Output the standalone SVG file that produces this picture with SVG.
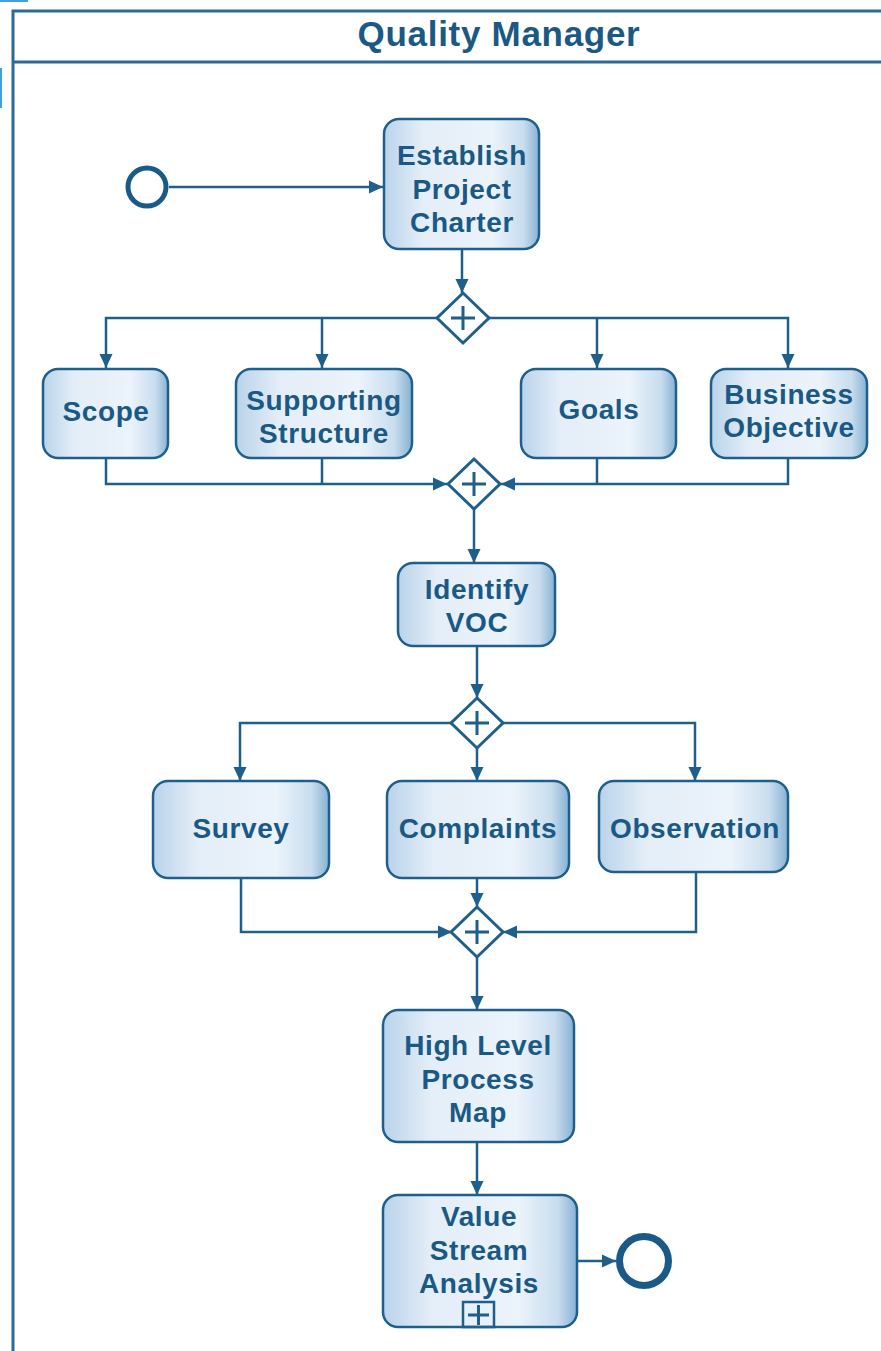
<svg xmlns="http://www.w3.org/2000/svg" width="881" height="1351" viewBox="0 0 881 1351">
  <style>
    .lane { fill: #ffffff; stroke: #2d6b97; stroke-width: 3; }
    .task { fill: url(#taskFill); stroke: #1f5f8b; stroke-width: 2.5; }
    .label { font-family: "Liberation Sans", Arial, sans-serif; font-weight: bold; font-size: 28px; letter-spacing: 0.6px; fill: #1a5984; text-anchor: middle; }
    .title { font-size: 35px; letter-spacing: 0.7px; }
    .flow { fill: none; stroke: #1f5f8b; stroke-width: 2.5; marker-end: url(#arrow); }
    .gateway { fill: #ffffff; stroke: #1f5f8b; stroke-width: 3; }
    .plus { fill: none; stroke: #1f5f8b; stroke-width: 3; }
    .event { fill: #ffffff; stroke: #1a5a87; }
    .handle { stroke: #3ea0e0; stroke-width: 2; }
  </style>
  <defs>
    <linearGradient id="taskFill" x1="0" y1="0" x2="1" y2="0">
      <stop offset="0" stop-color="#b9d3ea"/>
      <stop offset="0.25" stop-color="#e4eef8"/>
      <stop offset="0.7" stop-color="#ebf3fb"/>
      <stop offset="0.9" stop-color="#c9ddee"/>
      <stop offset="1" stop-color="#86b1d3"/>
    </linearGradient>
    <marker id="arrow" markerUnits="userSpaceOnUse" markerWidth="15" markerHeight="15" viewBox="0 0 15 15" refX="14" refY="7.5" orient="auto">
      <path d="M0,1 L14,7.5 L0,14 Z" fill="#1f5f8b"/>
    </marker>
  </defs>

  <!-- selection handles at the page edge -->
  <line class="handle" x1="0" y1="1" x2="28" y2="1"/>
  <line class="handle" x1="1" y1="68" x2="1" y2="108"/>

  <!-- swimlane -->
  <g id="lane">
    <rect class="lane" x="13" y="11" width="880" height="1360"/>
    <line x1="13" y1="62" x2="881" y2="62" stroke="#2d6b97" stroke-width="3"/>
    <text class="label title" x="499" y="46">Quality Manager</text>
  </g>

  <!-- sequence flows -->
  <g id="connectors">
    <path class="flow" d="M169,187 H383"/>
    <path class="flow" d="M462,249 V293"/>
    <path class="flow" d="M437,318 H106 V368"/>
    <path class="flow" d="M322,318 V368"/>
    <path class="flow" d="M489,318 H788 V368"/>
    <path class="flow" d="M597,318 V368"/>
    <path class="flow" d="M106,458 V484 H447"/>
    <path fill="none" stroke="#1f5f8b" stroke-width="2.5" d="M322,458 V484"/>
    <path class="flow" d="M788,458 V484 H501"/>
    <path fill="none" stroke="#1f5f8b" stroke-width="2.5" d="M597,458 V484"/>
    <path class="flow" d="M474,509 V563"/>
    <path class="flow" d="M477,646 V698"/>
    <path class="flow" d="M451,723 H240 V781"/>
    <path class="flow" d="M477,748 V781"/>
    <path class="flow" d="M503,723 H695 V781"/>
    <path class="flow" d="M241,878 V932 H452"/>
    <path class="flow" d="M477,878 V907"/>
    <path class="flow" d="M696,872 V932 H503"/>
    <path class="flow" d="M477,957 V1010"/>
    <path class="flow" d="M477,1142 V1195"/>
    <path class="flow" d="M577,1261 H616"/>
  </g>

  <!-- events -->
  <g id="start">
    <circle class="event" cx="147" cy="187" r="19" stroke-width="5"/>
  </g>
  <g id="end">
    <circle class="event" cx="644" cy="1261" r="24.5" stroke-width="7"/>
  </g>

  <!-- tasks -->
  <g id="establish">
    <rect class="task" x="384" y="119" width="155" height="130" rx="15"/>
    <text class="label" x="462" y="165">Establish</text>
    <text class="label" x="462" y="199">Project</text>
    <text class="label" x="462" y="232">Charter</text>
  </g>

  <g id="gw-split-1">
    <path class="gateway" d="M463,293 L489,318 L463,343 L437,318 Z"/>
    <path class="plus" d="M463,306 V330 M451,318 H475"/>
  </g>

  <g id="scope">
    <rect class="task" x="43" y="369" width="125" height="89" rx="15"/>
    <text class="label" x="106" y="421">Scope</text>
  </g>
  <g id="supporting">
    <rect class="task" x="236" y="369" width="176" height="89" rx="15"/>
    <text class="label" x="324" y="410">Supporting</text>
    <text class="label" x="324" y="443">Structure</text>
  </g>
  <g id="goals">
    <rect class="task" x="521" y="369" width="155" height="89" rx="15"/>
    <text class="label" x="599" y="419">Goals</text>
  </g>
  <g id="business">
    <rect class="task" x="711" y="369" width="156" height="89" rx="15"/>
    <text class="label" x="789" y="404">Business</text>
    <text class="label" x="789" y="437">Objective</text>
  </g>

  <g id="gw-join-1">
    <path class="gateway" d="M474,459 L500,484 L474,509 L448,484 Z"/>
    <path class="plus" d="M474,472 V496 M462,484 H486"/>
  </g>

  <g id="identify">
    <rect class="task" x="398" y="563" width="157" height="83" rx="15"/>
    <text class="label" x="477" y="599">Identify</text>
    <text class="label" x="477" y="632">VOC</text>
  </g>

  <g id="gw-split-2">
    <path class="gateway" d="M477,698 L503,723 L477,748 L451,723 Z"/>
    <path class="plus" d="M477,711 V735 M465,723 H489"/>
  </g>

  <g id="survey">
    <rect class="task" x="153" y="781" width="176" height="97" rx="15"/>
    <text class="label" x="241" y="838">Survey</text>
  </g>
  <g id="complaints">
    <rect class="task" x="387" y="781" width="182" height="97" rx="15"/>
    <text class="label" x="478" y="838">Complaints</text>
  </g>
  <g id="observation">
    <rect class="task" x="599" y="781" width="189" height="91" rx="15"/>
    <text class="label" x="695" y="838">Observation</text>
  </g>

  <g id="gw-join-2">
    <path class="gateway" d="M477,907 L503,932 L477,957 L451,932 Z"/>
    <path class="plus" d="M477,920 V944 M465,932 H489"/>
  </g>

  <g id="high-level">
    <rect class="task" x="383" y="1010" width="191" height="132" rx="15"/>
    <text class="label" x="478" y="1055">High Level</text>
    <text class="label" x="478" y="1089">Process</text>
    <text class="label" x="478" y="1122">Map</text>
  </g>

  <g id="value-stream">
    <rect class="task" x="383" y="1195" width="194" height="132" rx="15"/>
    <text class="label" x="479" y="1226">Value</text>
    <text class="label" x="479" y="1260">Stream</text>
    <text class="label" x="479" y="1293">Analysis</text>
    <rect x="463" y="1302" width="31" height="25" fill="none" stroke="#1f5f8b" stroke-width="2.5"/>
    <path class="plus" d="M478.5,1305 V1325 M468,1315 H489" stroke-width="2.5"/>
  </g>
</svg>
